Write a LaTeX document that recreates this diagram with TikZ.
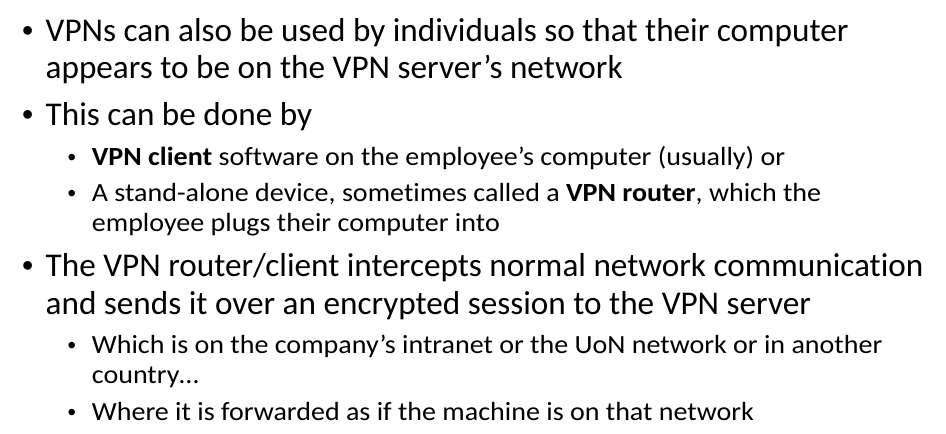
\documentclass[tikz,border=0pt]{standalone}
\usepackage{fontspec}
\setmainfont{Carlito}[Ligatures=NoCommon]
\newfontfamily\subfont{Carlito}[Ligatures=NoCommon,FakeStretch=1.07]
\newfontfamily\bulfont{Liberation Sans}
\begin{document}
\begin{tikzpicture}[x=1pt,y=1pt,
  mainline/.style={anchor=base west, inner sep=0pt, font=\fontsize{33.2}{38}\selectfont},
  subline/.style={anchor=base west, inner sep=0pt, font=\subfont\fontsize{26.2}{30}\selectfont},
  mainbul/.style={anchor=base west, inner sep=0pt, font=\bulfont\fontsize{32}{38}\selectfont},
  subbul/.style={anchor=base west, inner sep=0pt, font=\bulfont\fontsize{24}{29}\selectfont}]
\useasboundingbox[fill=white] (0,0) rectangle (946,-434);
% main bullets
\node[mainbul] (b1) at (22,-41.7) {•};
\node[mainline] (t1) at (45.5,-41.7) {VPNs can also be used by individuals so that their computer};
\node[mainline] (t2) at (45.5,-78.3) {appears to be on the VPN server’s network};
\node[mainbul] (b2) at (22,-125) {•};
\node[mainline] (t3) at (45.5,-125) {This can be done by};
\node[subbul] (b3) at (67.5,-165) {•};
\node[subline] (t4) at (91.7,-165) {\textbf{VPN client} software on the employee’s computer (usually) or};
\node[subbul] (b4) at (67.5,-201.7) {•};
\node[subline] (t5) at (91.7,-201.7) {A stand-alone device, sometimes called a \textbf{VPN router}, which the};
\node[subline] (t6) at (91.7,-231.7) {employee plugs their computer into};
\node[mainbul] (b5) at (22,-276.7) {•};
\node[mainline] (t7) at (45.5,-276.7) {The VPN router/client intercepts normal network communication};
\node[mainline] (t8) at (45.5,-314) {and sends it over an encrypted session to the VPN server};
\node[subbul] (b6) at (67.5,-353.3) {•};
\node[subline] (t9) at (91.7,-353.3) {Which is on the company’s intranet or the UoN network or in another};
\node[subline] (t10) at (91.7,-383.3) {country…};
\node[subbul] (b7) at (67.5,-420) {•};
\node[subline] (t11) at (91.7,-420) {Where it is forwarded as if the machine is on that network};
\end{tikzpicture}
\end{document}
